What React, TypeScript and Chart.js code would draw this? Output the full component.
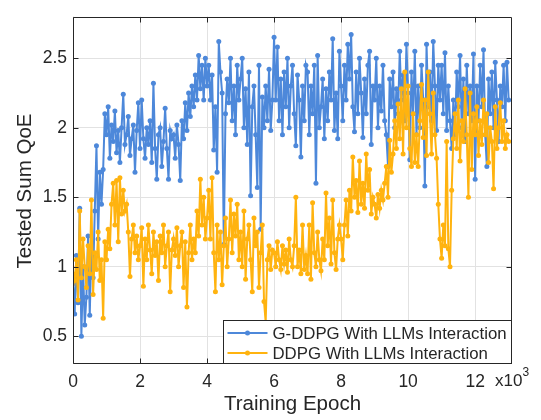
import { useEffect, useRef } from "react";
import { Chart, registerables } from "chart.js";

Chart.register(...registerables);

// ---------- data ----------
const EPOCH_STEP = 50; // epochs between consecutive tested points
const X_MAX = 13100;
const Y_MIN = 0.3;
const Y_MAX = 2.8;

const seriesNames = ["G-DDPG With LLMs Interaction", "DDPG With LLMs Interaction"];

const gddpgQoE = [
  0.88, 0.66, 1.08, 0.74, 1.42, 0.5, 1.0, 0.58, 0.78, 1.22, 0.65, 1.15, 0.92, 1.4, 1.87, 1.2, 1.68, 1.45, 1.7, 2.1,
  1.95, 2.15, 1.78, 2.02, 1.9, 2.12, 1.82, 1.98, 1.75, 2.0, 2.24, 1.88, 1.95, 2.08, 1.8, 1.92, 2.02, 1.68, 1.98, 2.18,
  1.85, 2.2, 1.92, 1.78, 2.0, 1.88, 2.05, 1.75, 2.32, 1.85, 1.63, 1.95, 2.0, 1.72, 1.9, 2.14, 1.85, 1.63, 1.98, 1.92,
  1.95, 1.78, 2.02, 1.88, 1.62, 2.05, 1.92, 2.18, 1.98, 2.25, 2.08, 2.3, 2.15, 2.38, 2.2, 2.52, 2.28, 2.45, 2.2, 2.5,
  2.3, 2.45, 2.2, 2.38, 1.84, 2.15, 1.68, 2.62, 2.4, 2.25, 1.16, 2.1, 2.35, 2.18, 2.5, 2.05, 2.3, 1.95, 2.45, 2.2,
  2.35, 2.5, 2.0, 2.28, 1.88, 2.4, 1.51, 2.15, 2.3, 1.95, 1.57, 2.45, 1.27, 2.22, 2.0, 2.3, 2.05, 2.42, 1.98, 2.2,
  2.65, 2.2, 2.58, 2.05, 2.35, 1.95, 2.4, 2.15, 2.5, 2.0, 2.3, 2.45, 2.1, 1.87, 2.38, 2.2, 1.79, 2.3, 2.05, 2.45,
  2.4, 1.95, 2.3, 2.1, 2.45, 1.6, 2.52, 2.0, 2.15, 2.35, 1.92, 2.28, 2.05, 2.4, 2.2, 2.64, 1.98, 2.25, 1.92, 2.55,
  2.3, 2.05, 2.45, 2.2, 2.6, 2.35, 2.67, 2.15, 1.97, 2.4, 2.1, 2.5, 2.25, 1.93, 2.35, 2.1, 2.45, 2.55, 1.88, 2.3,
  2.2, 2.5, 2.0, 2.3, 2.12, 2.45, 2.05, 1.95, 1.72, 2.35, 2.15, 2.4, 2.0, 2.28, 2.1, 2.55, 2.2, 2.38, 2.05, 2.6,
  2.25, 1.77, 2.4, 2.1, 2.55, 1.95, 2.3, 2.0, 2.45, 2.2, 1.58, 2.6, 2.15, 2.4, 2.05, 2.62, 2.3, 1.98, 2.45, 2.2,
  2.45, 2.1, 2.54, 1.98, 2.3, 2.05, 1.85, 2.2, 1.95, 2.4, 2.15, 2.52, 2.0, 2.35, 1.9, 2.45, 2.1, 2.3, 2.05, 2.53,
  1.63, 2.3, 2.05, 2.45, 2.15, 2.56, 1.95, 1.72, 2.35, 2.1, 2.4, 2.0, 2.47, 2.2, 1.9, 2.3, 2.15, 2.45, 2.05, 2.47, 2.2,
];

const ddpgQoE = [
  0.95, 0.9, 1.05, 0.76, 1.4, 0.92, 1.2, 1.0, 0.85, 1.15, 0.95, 1.48, 0.8, 1.1, 0.98, 1.25, 0.9, 1.05, 0.63, 1.18,
  1.05, 1.27, 1.13, 1.45, 1.6, 1.3, 1.62, 1.18, 1.64, 1.38, 1.55, 1.4, 1.45, 1.25, 0.93, 1.2, 1.3, 1.1, 1.22, 1.05,
  1.15, 1.28, 0.86, 1.2, 1.05, 1.3, 1.12, 0.95, 1.25, 1.08, 1.18, 0.9, 1.22, 1.1, 1.3, 1.0, 1.15, 1.25, 0.82, 1.12,
  1.2, 1.08, 1.28, 1.0, 1.15, 1.25, 0.85, 1.18, 0.71, 1.1, 1.3, 1.05, 1.2, 1.1, 1.4, 1.22, 1.63, 1.3, 1.5, 1.2,
  1.35, 1.55, 1.2, 1.64, 1.1, 0.82, 1.3, 1.05, 1.25, 0.87, 1.15, 1.35, 1.0, 1.2, 1.48, 1.1, 1.38, 1.22, 1.45, 1.05,
  1.25, 1.0, 1.4, 0.91, 1.2, 1.3, 1.05, 0.82, 1.35, 1.15, 1.25, 0.85, 1.1, 1.3, 0.75, 0.6, 1.05, 1.15, 0.98, 1.12,
  1.1, 1.0, 1.18, 1.05, 0.98, 1.15, 1.02, 1.12, 0.96, 1.2, 1.05, 1.0, 1.15, 1.5, 1.0, 1.12, 0.95, 1.3, 0.98, 1.08,
  0.95, 1.3, 0.91, 1.46, 1.1, 1.0, 1.25, 1.05, 0.97, 1.2, 1.05, 1.53, 1.15, 1.35, 1.02, 1.48, 1.1, 0.98, 1.2, 1.3,
  1.2, 1.05, 1.3, 1.48, 1.22, 1.55, 1.4, 1.79, 1.5, 1.62, 1.39, 1.76, 1.45, 1.6, 1.42, 1.81, 1.55, 1.7, 1.38, 1.5,
  1.45, 1.35, 1.52, 1.42, 1.55, 1.48, 1.6, 1.72, 1.5, 1.91, 1.68, 1.81, 2.05, 1.85, 2.17, 1.92, 2.28, 1.81, 2.4, 2.0,
  2.3, 1.85, 1.72, 2.1, 1.75, 1.95, 1.72, 2.05, 2.31, 1.93, 2.2, 1.8, 2.4, 2.1, 1.81, 2.25, 1.95, 1.78, 1.45, 1.2,
  1.06, 1.3, 1.15, 1.9, 1.13, 1.0, 1.55, 1.92, 2.1, 1.85, 2.2, 1.76, 2.05, 1.9, 2.28, 1.95, 1.5, 2.25, 1.7, 2.1,
  1.95, 2.15, 1.8, 2.05, 1.88, 2.2, 1.95, 2.1, 1.75, 2.0, 1.9, 1.56, 2.15, 1.85, 2.0, 2.18, 1.9, 2.05, 1.85, 1.95, 1.9,
];

const xTickValues = [0, 2000, 4000, 6000, 8000, 10000, 12000];
const yTickValues = [0.5, 1, 1.5, 2, 2.5];

// ---------- styles ----------
const BLUE = "#4D88DA";
const ORANGE = "#FFB30F";
const AXIS_COLOR = "#262626";
const GRID_COLOR = "#E2E2E2";
const FONT = "'Liberation Sans', Arial, Helvetica, sans-serif";

const toPoints = (vals: number[]) => vals.map((v, i) => ({ x: i * EPOCH_STEP, y: v }));

const framePlugin = {
  id: "matlabFrame",
  afterDatasetsDraw(chart: any) {
    const { ctx, chartArea, scales } = chart;
    const L = Math.round(chartArea.left) + 0.5;
    const R = Math.round(chartArea.right) - 0.5;
    const T = Math.round(chartArea.top) + 0.5;
    const B = Math.round(chartArea.bottom) - 0.5;
    const TL = 5;
    ctx.save();
    ctx.strokeStyle = AXIS_COLOR;
    ctx.lineWidth = 1;
    ctx.beginPath();
    ctx.rect(L, T, R - L, B - T);
    for (const v of xTickValues) {
      const px = Math.round(scales.x.getPixelForValue(v)) + 0.5;
      ctx.moveTo(px, B);
      ctx.lineTo(px, B - TL);
      ctx.moveTo(px, T);
      ctx.lineTo(px, T + TL);
    }
    for (const v of yTickValues) {
      const py = Math.round(scales.y.getPixelForValue(v)) + 0.5;
      ctx.moveTo(L, py);
      ctx.lineTo(L + TL, py);
      ctx.moveTo(R, py);
      ctx.lineTo(R - TL, py);
    }
    ctx.stroke();

    // legend box (bottom right, inside axes)
    const lw = 288;
    const lh = 43;
    const lx = R - lw;
    const ly = B - lh;
    ctx.fillStyle = "#FFFFFF";
    ctx.fillRect(lx, ly, lw, lh);
    ctx.strokeRect(lx, ly, lw, lh);
    const colors = [BLUE, ORANGE];
    ctx.font = `16.8px ${FONT}`;
    ctx.textBaseline = "middle";
    ctx.textAlign = "left";
    seriesNames.forEach((name, i) => {
      const cy = ly + 12.5 + i * 20;
      ctx.strokeStyle = colors[i];
      ctx.lineWidth = 2;
      ctx.beginPath();
      ctx.moveTo(lx + 4, cy);
      ctx.lineTo(lx + 44, cy);
      ctx.stroke();
      ctx.fillStyle = colors[i];
      ctx.beginPath();
      ctx.arc(lx + 24, cy, 2.5, 0, Math.PI * 2);
      ctx.fill();
      ctx.fillStyle = AXIS_COLOR;
      ctx.fillText(name, lx + 49, cy + 1);
    });

    // exponent label
    ctx.fillStyle = AXIS_COLOR;
    ctx.font = `17px ${FONT}`;
    ctx.textAlign = "left";
    ctx.fillText("x10", 495, 381);
    const w = ctx.measureText("x10").width;
    ctx.font = `12px ${FONT}`;
    ctx.fillText("3", 495 + w, 373);

    // y axis title
    ctx.font = `20.5px ${FONT}`;
    ctx.textAlign = "center";
    ctx.translate(25, 191);
    ctx.rotate(-Math.PI / 2);
    ctx.fillText("Tested Sum QoE", 0, 0);
    ctx.restore();
  },
};

export default function App() {
  const ref = useRef<HTMLCanvasElement | null>(null);

  useEffect(() => {
    if (!ref.current) return;
    const common = {
      borderWidth: 2,
      pointRadius: 2.5,
      pointBorderWidth: 0,
      pointHoverRadius: 2.5,
      tension: 0,
    };
    const chart = new Chart(ref.current, {
      type: "line",
      data: {
        datasets: [
          {
            label: seriesNames[1],
            data: toPoints(ddpgQoE),
            borderColor: ORANGE,
            backgroundColor: ORANGE,
            order: 0,
            ...common,
          },
          {
            label: seriesNames[0],
            data: toPoints(gddpgQoE),
            borderColor: BLUE,
            backgroundColor: BLUE,
            order: 1,
            ...common,
          },
        ],
      },
      options: {
        animation: false,
        responsive: false,
        devicePixelRatio: 1,
        events: [],
        layout: { padding: { top: 5, right: 29, left: 0, bottom: 0 } },
        plugins: { legend: { display: false }, tooltip: { enabled: false } },
        scales: {
          x: {
            type: "linear",
            min: 0,
            max: X_MAX,
            afterFit: (s: any) => {
              s.height = 56;
            },
            afterBuildTicks: (s: any) => {
              s.ticks = xTickValues.map((v) => ({ value: v }));
            },
            grid: { color: GRID_COLOR, lineWidth: 1, drawTicks: false },
            border: { display: false },
            ticks: {
              padding: 7.5,
              color: AXIS_COLOR,
              font: { family: FONT, size: 17.5 },
              maxRotation: 0,
              callback: (v: any) => String(Number(v) / 1000),
            },
            title: {
              display: true,
              text: "Training Epoch",
              color: AXIS_COLOR,
              font: { family: FONT, size: 20.5 },
              padding: { top: 0, bottom: 3 },
            },
          },
          y: {
            type: "linear",
            min: Y_MIN,
            max: Y_MAX,
            afterFit: (s: any) => {
              s.width = 73;
            },
            afterBuildTicks: (s: any) => {
              s.ticks = yTickValues.map((v) => ({ value: v }));
            },
            grid: { color: GRID_COLOR, lineWidth: 1, drawTicks: false },
            border: { display: false },
            ticks: {
              padding: 6,
              color: AXIS_COLOR,
              font: { family: FONT, size: 17.5 },
              callback: (v: any) => String(v),
            },
          },
        },
      },
      plugins: [framePlugin],
    });
    return () => chart.destroy();
  }, []);

  return (
    <div style={{ position: "fixed", left: 0, top: 0, width: 541, height: 420, background: "#fff" }}>
      <canvas ref={ref} width={541} height={420} style={{ width: 541, height: 420 }} />
    </div>
  );
}
